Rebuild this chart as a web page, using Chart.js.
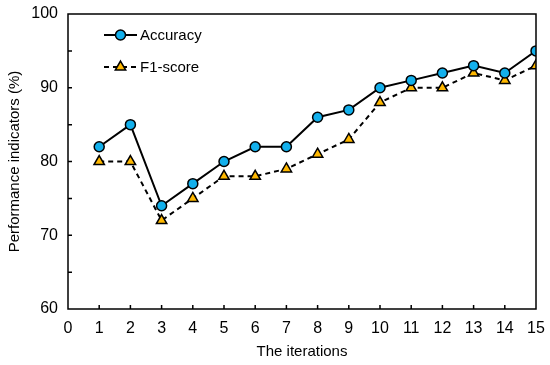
<!DOCTYPE html>
<html>
<head>
<meta charset="utf-8">
<script src="https://cdn.jsdelivr.net/npm/chart.js@4/dist/chart.umd.min.js"></script>
<style>
  html, body { margin: 0; padding: 0; background: #fff; }
  #wrap { width: 550px; height: 365px; }
</style>
</head>
<body>
<div id="wrap"><canvas id="perfChart" width="550" height="365"></canvas></div>
<script>
const iterations = [1, 2, 3, 4, 5, 6, 7, 8, 9, 10, 11, 12, 13, 14, 15];
const accuracy = [82, 85, 74, 77, 80, 82, 82, 86, 87, 90, 91, 92, 93, 92, 95];
const f1Score = [80, 80, 72, 75, 78, 78, 79, 81, 83, 88, 90, 90, 92, 91, 93];
const minorYTicks = [65, 75, 85, 95];

const FONT = "'Liberation Sans', Arial, sans-serif";

// frame + inward ticks + legend inside the plot
const framePlugin = {
  id: 'frame',
  afterDraw(chart) {
    const ctx = chart.ctx;
    const area = chart.chartArea;
    const xs = chart.scales.x;
    const ys = chart.scales.y;
    ctx.save();
    ctx.strokeStyle = '#000';
    ctx.lineWidth = 1.5;
    ctx.setLineDash([]);
    ctx.strokeRect(area.left, area.top, area.right - area.left, area.bottom - area.top);

    ctx.beginPath();
    for (let v = 1; v < 15; v++) {
      const px = xs.getPixelForValue(v);
      ctx.moveTo(px, area.bottom);
      ctx.lineTo(px, area.bottom - 4);
    }
    const yTicks = [70, 80, 90].concat(minorYTicks);
    yTicks.forEach(v => {
      const py = ys.getPixelForValue(v);
      ctx.moveTo(area.left, py);
      ctx.lineTo(area.left + 4, py);
    });
    ctx.stroke();

    // legend
    chart.data.datasets.forEach((ds, i) => {
      const y = area.top + 21 + i * 32;
      const x0 = area.left + 36;
      const x1 = area.left + 69;
      ctx.strokeStyle = ds.borderColor;
      ctx.lineWidth = ds.borderWidth;
      ctx.setLineDash(ds.borderDash || []);
      ctx.beginPath();
      ctx.moveTo(x0, y);
      ctx.lineTo(x1, y);
      ctx.stroke();
      ctx.setLineDash([]);
      ctx.fillStyle = ds.pointBackgroundColor;
      ctx.strokeStyle = ds.pointBorderColor;
      ctx.lineWidth = ds.pointBorderWidth;
      Chart.helpers.drawPoint(ctx, {
        pointStyle: ds.pointStyle,
        radius: ds.pointRadius,
        rotation: 0,
        borderWidth: ds.pointBorderWidth
      }, (x0 + x1) / 2, y);
      ctx.fillStyle = '#000';
      ctx.font = '15px ' + FONT;
      ctx.textBaseline = 'middle';
      ctx.textAlign = 'left';
      ctx.fillText(ds.label, x1 + 3, y + 1);
    });
    ctx.restore();
  }
};

document.addEventListener('DOMContentLoaded', function () {
  const canvas = document.getElementById('perfChart');
  const ctx = canvas.getContext('2d');

  new Chart(ctx, {
    type: 'line',
    data: {
      datasets: [{
        label: 'Accuracy',
        data: iterations.map((it, i) => ({ x: it, y: accuracy[i] })),
        borderColor: '#000',
        borderWidth: 2,
        pointStyle: 'circle',
        pointRadius: 5,
        pointBackgroundColor: '#13B0EC',
        pointBorderColor: '#000',
        pointBorderWidth: 1.5,
        tension: 0
      }, {
        label: 'F1-score',
        data: iterations.map((it, i) => ({ x: it, y: f1Score[i] })),
        borderColor: '#000',
        borderWidth: 2,
        borderDash: [5, 4],
        pointStyle: 'triangle',
        pointRadius: 6,
        pointBackgroundColor: '#FFB800',
        pointBorderColor: '#000',
        pointBorderWidth: 1.5,
        tension: 0
      }]
    },
    options: {
      responsive: false,
      animation: false,
      layout: { padding: { top: 14, right: 14, left: 2, bottom: 0 } },
      plugins: {
        legend: { display: false },
        tooltip: { enabled: false }
      },
      scales: {
        x: {
          type: 'linear',
          min: 0,
          max: 15,
          grid: { display: false, drawTicks: false },
          border: { display: false },
          ticks: {
            stepSize: 1,
            padding: 10,
            color: '#000',
            font: { family: FONT, size: 16 }
          },
          title: {
            display: true,
            text: 'The iterations',
            color: '#000',
            font: { family: FONT, size: 15 },
            padding: { top: 6 }
          },
          afterFit(scale) {
            scale.height = 56;
            scale.paddingLeft = 0;
            scale.paddingRight = 0;
          }
        },
        y: {
          min: 60,
          max: 100,
          grid: { display: false, drawTicks: false },
          border: { display: false },
          ticks: {
            stepSize: 10,
            padding: 10,
            color: '#000',
            font: { family: FONT, size: 16 }
          },
          title: {
            display: true,
            text: 'Performance indicators (%)',
            color: '#000',
            font: { family: FONT, size: 15 },
            padding: { bottom: 4 }
          },
          afterFit(scale) {
            scale.width = 66;
            scale.paddingTop = 0;
            scale.paddingBottom = 0;
          }
        }
      }
    },
    plugins: [framePlugin]
  });
});
</script>
</body>
</html>
